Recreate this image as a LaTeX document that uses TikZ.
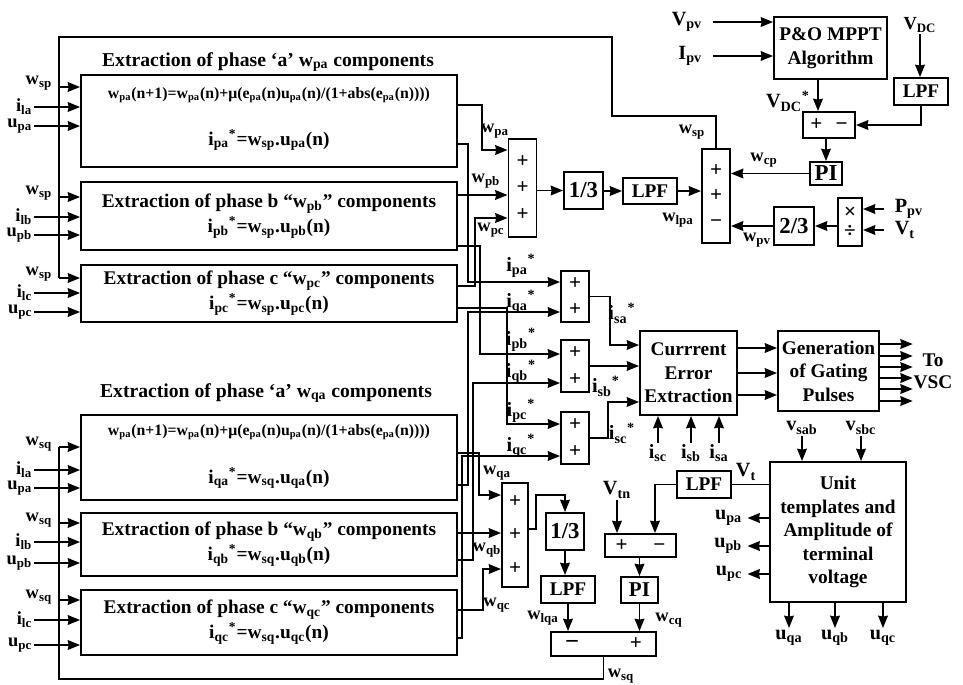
\documentclass[tikz,border=0pt]{standalone}
\usepackage{fontspec}
\setmainfont{Liberation Serif}
\usepackage{tikz}
\usetikzlibrary{arrows.meta, positioning}
\newcommand{\sbs}[1]{\textsubscript{#1}}
\newcommand{\sps}[1]{\textsuperscript{#1}}
\tikzset{every node/.style={font=\bfseries\fontsize{10.5}{12.5}\selectfont}}

\begin{document}
\begin{tikzpicture}[x=0.02cm, y=-0.02cm, line width=1.1pt, >={Stealth[length=7pt, width=5.5pt, inset=0.5pt]}]
    % Define styles
    \tikzstyle{exbox} = [rectangle, draw=black, minimum width=7.52cm, align=center, font=\bfseries\fontsize{11}{14.2}\selectfont]
    \tikzstyle{blockbox} = [rectangle, draw=black, align=center, inner sep=0pt, font=\bfseries\fontsize{11}{13.4}\selectfont]
    \tikzstyle{sumbox} = [rectangle, draw=black, align=center, inner sep=0pt, minimum width=0.56cm, font=\bfseries\fontsize{12}{15}\selectfont]
    \tikzstyle{eqtext} = [font=\bfseries\fontsize{9}{10}\selectfont]
    \tikzstyle{titletext} = [font=\bfseries\fontsize{11.2}{13}\selectfont]
    \tikzstyle{biglbl} = [inner sep=0.5pt, font=\bfseries\fontsize{11.5}{13}\selectfont]
    \tikzstyle{lbl} = [inner sep=0.5pt]
    \tikzstyle{arrow} = [->]

    \useasboundingbox (0,0) rectangle (963,684);

    % Extraction of p components
    \node (titlePa) [titletext] at (268,62) {Extraction of phase ‘a’ w\sbs{pa} components};
    \node (exPa) [exbox, minimum height=1.84cm] at (269,121) {};
    \node (eqPa) [eqtext] at (269,95) {w\sbs{pa}(n+1)=w\sbs{pa}(n)+μ(e\sbs{pa}(n)u\sbs{pa}(n)/(1+abs(e\sbs{pa}(n))))};
    \node (refPa) [font=\bfseries\fontsize{11}{13}\selectfont] at (269,140) {i\sbs{pa}\sps{*}=w\sbs{sp}.u\sbs{pa}(n)};
    \node (exPb) [exbox, minimum height=1.36cm] at (269,216) {Extraction of phase b “w\sbs{pb}” components\\ i\sbs{pb}\sps{*}=w\sbs{sp}.u\sbs{pb}(n)};
    \node (exPc) [exbox, minimum height=1.14cm] at (269,293.5) {Extraction of phase c “w\sbs{pc}” components\\ i\sbs{pc}\sps{*}=w\sbs{sp}.u\sbs{pc}(n)};

    % Extraction of q components
    \node (titleQa) [titletext] at (266,393) {Extraction of phase ‘a’ w\sbs{qa} components};
    \node (exQa) [exbox, minimum height=1.7cm] at (269,457.5) {};
    \node (eqQa) [eqtext] at (269,432) {w\sbs{pa}(n+1)=w\sbs{pa}(n)+μ(e\sbs{pa}(n)u\sbs{pa}(n)/(1+abs(e\sbs{pa}(n))))};
    \node (refQa) [font=\bfseries\fontsize{11}{13}\selectfont] at (269,478) {i\sbs{qa}\sps{*}=w\sbs{sq}.u\sbs{qa}(n)};
    \node (exQb) [exbox, minimum height=1.26cm] at (269,544.5) {Extraction of phase b “w\sbs{qb}” components\\ i\sbs{qb}\sps{*}=w\sbs{sq}.u\sbs{qb}(n)};
    \node (exQc) [exbox, minimum height=1.3cm] at (269,622.5) {Extraction of phase c “w\sbs{qc}” components\\ i\sbs{qc}\sps{*}=w\sbs{sq}.u\sbs{qc}(n)};

    % Inputs of the extraction blocks
    \foreach \bx/\yw/\yi/\yu/\ph in {exPa/87/107/126/a, exPb/197/217/235/b, exPc/278/293/312/c} {
        \coordinate (tapP\ph) at (59,\yw);
        \node (wspIn\ph) [lbl, anchor=east] at (54,\yw-4) {w\sbs{sp}};
        \draw[arrow] (tapP\ph) -- (\bx.west |- tapP\ph);
        \node (ilP\ph) [lbl, anchor=east] at (34,\yi) {i\sbs{l\ph}};
        \draw[arrow] (ilP\ph.east) -- (\bx.west |- ilP\ph.east);
        \node (upP\ph) [lbl, anchor=east] at (34,\yu) {u\sbs{p\ph}};
        \draw[arrow] (upP\ph.east) -- (\bx.west |- upP\ph.east);
    }
    \foreach \bx/\yw/\yi/\yu/\ph in {exQa/447/470/488/a, exQb/523/542/563/b, exQc/600/620/645/c} {
        \coordinate (tapQ\ph) at (59,\yw);
        \node (wsqIn\ph) [lbl, anchor=east] at (54,\yw-3) {w\sbs{sq}};
        \draw[arrow] (tapQ\ph) -- (\bx.west |- tapQ\ph);
        \node (ilQ\ph) [lbl, anchor=east] at (34,\yi) {i\sbs{l\ph}};
        \draw[arrow] (ilQ\ph.east) -- (\bx.west |- ilQ\ph.east);
        \node (upQ\ph) [lbl, anchor=east] at (34,\yu) {u\sbs{p\ph}};
        \draw[arrow] (upQ\ph.east) -- (\bx.west |- upQ\ph.east);
    }

    % Active (p) weight loop
    \node (sumP) [sumbox, minimum height=1.96cm] at (522.5,188) {+\\+\\+};
    \node (thirdP) [blockbox, minimum width=0.78cm, minimum height=0.74cm, font=\bfseries\fontsize{13}{14}\selectfont] at (583.5,190.5) {1/3};
    \node (lpfP) [blockbox, minimum width=1.08cm, minimum height=0.52cm] at (650,191) {LPF};
    \node (bigP) [sumbox, minimum height=1.88cm, font=\bfseries\fontsize{12}{14.7}\selectfont] at (716,196) {+\\+\\−};
    \node (mppt) [blockbox, minimum width=2.26cm, minimum height=1.24cm] at (830.5,48) {P\&O MPPT\\Algorithm};
    \node (lpfDC) [blockbox, minimum width=1.08cm, minimum height=0.54cm] at (921,91.5) {LPF};
    \node (errDC) [blockbox, minimum width=1.04cm, minimum height=0.52cm, font=\bfseries\fontsize{12}{14}\selectfont] at (829,125) {+\hspace{7.4pt}−};
    \node (piP) [blockbox, minimum width=0.64cm, minimum height=0.46cm, font=\bfseries\fontsize{13}{14}\selectfont] at (826,173.5) {PI};
    \node (muldiv) [blockbox, minimum width=0.48cm, minimum height=0.96cm, font=\bfseries\fontsize{12}{10.8}\selectfont] at (850,222) {×\\÷};
    \node (twoThird) [blockbox, minimum width=0.8cm, minimum height=0.76cm, font=\bfseries\fontsize{13}{14}\selectfont] at (794,226) {2/3};

    \node (vpv) [biglbl, anchor=east] at (704,22) {V\sbs{pv}};
    \node (ipv) [biglbl, anchor=east] at (704,56) {I\sbs{pv}};
    \node (vdc) [lbl] at (920,25) {V\sbs{DC}};
    \node (vdcref) [biglbl] at (788,101) {V\sbs{DC}\sps{*}};
    \node (ppv) [biglbl, anchor=west] at (893,209) {P\sbs{pv}};
    \node (vtP) [biglbl, anchor=west] at (893,230) {V\sbs{t}};

    \draw[arrow] ([xshift=5pt]vpv.east) -- (mppt.west |- vpv.east);
    \draw[arrow] ([xshift=5pt]ipv.east) -- (mppt.west |- ipv.east);
    \draw[arrow] (mppt.south -| 818,0) -- (errDC.north -| 818,0);
    \draw[arrow] (vdc.south) -- (vdc.south |- lpfDC.north);
    \draw[arrow] (lpfDC.south) |- (errDC.east);
    \draw[arrow] (errDC.south -| piP.north) -- (piP.north);
    \draw[arrow] (piP.west) -- (piP.west -| bigP.east);
    \draw[arrow] ([xshift=-5pt]ppv.west) -- (muldiv.east |- ppv.west);
    \draw[arrow] ([xshift=-5pt]vtP.west) -- (muldiv.east |- vtP.west);
    \draw[arrow] (muldiv.west |- twoThird.east) -- (twoThird.east);
    \draw[arrow] (twoThird.west) -- (twoThird.west -| bigP.east);
    \draw[arrow] (sumP.east |- thirdP.west) -- (thirdP.west);
    \draw[arrow] (thirdP.east |- lpfP.west) -- (lpfP.west);
    \draw[arrow] (lpfP.east) -- (lpfP.east -| bigP.west);
    \draw (bigP.north) |- (612,116) |- (59,37) -- (tapPc);

    \node (wcp) [lbl] at (764,160) {w\sbs{cp}};
    \node (wpv) [lbl] at (757,240) {w\sbs{pv}};
    \node (wlpa) [lbl] at (678,220) {w\sbs{lpa}};
    \node (wspOut) [lbl] at (692,132) {w\sbs{sp}};

    % Outputs of the p blocks
    \draw[arrow] (exPa.east |- 0,105) -| (482,150) -- (sumP.west |- 0,150);
    \draw[arrow] (exPb.east |- 0,195) -- (sumP.west |- 0,195);
    \draw[arrow] (exPc.east |- 0,286) -| (475,218) -- (sumP.west |- 0,218);
    \node (wpa) [lbl] at (495,131) {w\sbs{pa}};
    \node (wpb) [lbl] at (486,181) {w\sbs{pb}};
    \node (wpc) [lbl] at (491,230) {w\sbs{pc}};

    % Reference current summers
    \node (sumA) [sumbox, minimum height=1.02cm] at (575,296.5) {+\\+};
    \node (sumB) [sumbox, minimum height=1.04cm] at (575,366) {+\\+};
    \node (sumC) [sumbox, minimum height=1.04cm] at (575,438) {+\\+};

    \draw[arrow] (exPa.east |- 0,144) -| (468,282) -- (sumA.west |- 0,282);
    \draw[arrow] (exQa.east |- 0,485) -| (468,312) -- (sumA.west |- 0,312);
    \draw[arrow] (exPb.east |- 0,246) -| (480,354) -- (sumB.west |- 0,354);
    \draw[arrow] (exQb.east |- 0,560) -| (473,383) -- (sumB.west |- 0,383);
    \draw[arrow] (exPc.east |- 0,308) -| (507,424) -- (sumC.west |- 0,424);
    \draw[arrow] (exQc.east |- 0,638) -| (462,456) -- (sumC.west |- 0,456);

    \node (ipaS) [biglbl] at (521,266) {i\sbs{pa}\sps{*}};
    \node (iqaS) [biglbl] at (521,302) {i\sbs{qa}\sps{*}};
    \node (ipbS) [biglbl] at (521,340) {i\sbs{pb}\sps{*}};
    \node (iqbS) [biglbl] at (521,372) {i\sbs{qb}\sps{*}};
    \node (ipcS) [biglbl] at (521,411) {i\sbs{pc}\sps{*}};
    \node (iqcS) [biglbl] at (521,446) {i\sbs{qc}\sps{*}};

    % Current error and gating
    \node (errX) [blockbox, minimum width=1.94cm, minimum height=1.68cm] at (688.5,373) {Currrent\\Error\\Extraction};
    \node (gate) [blockbox, minimum width=2.02cm, minimum height=1.6cm] at (828.5,371) {Generation\\of Gating\\Pulses};
    \node (toVSC) [inner sep=0pt, align=center, font=\bfseries\fontsize{11}{12.5}\selectfont] at (933,371) {To\\VSC};

    \draw[arrow] (sumA.east) -| (610,345) -- (errX.west |- 0,345);
    \draw[arrow] (sumB.east) -- (sumB.east -| errX.west);
    \draw[arrow] (sumC.east) -| (608,402) -- (errX.west |- 0,402);
    \node (isaS) [biglbl] at (622,313) {i\sbs{sa}\sps{*}};
    \node (isbS) [biglbl] at (606,386) {i\sbs{sb}\sps{*}};
    \node (iscS) [biglbl] at (622,433) {i\sbs{sc}\sps{*}};

    \foreach \y in {348,373,395}
        \draw[arrow] (errX.east |- 0,\y) -- (gate.west |- 0,\y);
    \foreach \y in {344,356,367,378,389,401}
        \draw[arrow] (gate.east |- 0,\y) -- (toVSC.west |- 0,\y);

    \node (isc) [biglbl] at (658,453) {i\sbs{sc}};
    \node (isb) [biglbl] at (691,453) {i\sbs{sb}};
    \node (isa) [biglbl] at (719,453) {i\sbs{sa}};
    \draw[arrow] (isc.north) -- (isc.north |- errX.south);
    \draw[arrow] (isb.north) -- (isb.north |- errX.south);
    \draw[arrow] (isa.north) -- (isa.north |- errX.south);

    % Unit templates
    \node (unit) [blockbox, minimum width=2.72cm, minimum height=2.8cm] at (838,532) {Unit\\templates and\\Amplitude of\\terminal\\voltage};
    \node (vsab) [biglbl] at (802,428) {v\sbs{sab}};
    \node (vsbc) [biglbl] at (861,428) {v\sbs{sbc}};
    \draw[arrow] (vsab.south) -- (vsab.south |- unit.north);
    \draw[arrow] (vsbc.south) -- (vsbc.south |- unit.north);
    \node (upaO) [biglbl, anchor=east] at (744,518) {u\sbs{pa}};
    \node (upbO) [biglbl, anchor=east] at (744,546) {u\sbs{pb}};
    \node (upcO) [biglbl, anchor=east] at (744,574) {u\sbs{pc}};
    \draw[arrow] (unit.west |- upaO.east) -- ([xshift=2pt]upaO.east);
    \draw[arrow] (unit.west |- upbO.east) -- ([xshift=2pt]upbO.east);
    \draw[arrow] (unit.west |- upcO.east) -- ([xshift=2pt]upcO.east);
    \node (uqaO) [biglbl, anchor=north] at (789,628) {u\sbs{qa}};
    \node (uqbO) [biglbl, anchor=north] at (835,628) {u\sbs{qb}};
    \node (uqcO) [biglbl, anchor=north] at (883,628) {u\sbs{qc}};
    \draw[arrow] (unit.south -| uqaO.north) -- (uqaO.north);
    \draw[arrow] (unit.south -| uqbO.north) -- (uqbO.north);
    \draw[arrow] (unit.south -| uqcO.north) -- (uqcO.north);

    % Reactive (q) weight loop
    \node (sumQ) [sumbox, minimum width=0.52cm, minimum height=2.08cm, font=\bfseries\fontsize{12}{19}\selectfont] at (515,535) {+\\+\\+};
    \node (thirdQ) [blockbox, minimum width=0.76cm, minimum height=0.74cm, font=\bfseries\fontsize{13}{14}\selectfont] at (565,531.5) {1/3};
    \node (lpfQ) [blockbox, minimum width=1.08cm, minimum height=0.54cm] at (568,589.5) {LPF};
    \node (lpfV) [blockbox, minimum width=1.08cm, minimum height=0.54cm] at (704,484.5) {LPF};
    \node (errQ) [blockbox, minimum width=1.42cm, minimum height=0.46cm, font=\bfseries\fontsize{12}{14}\selectfont] at (640.5,545.5) {+\hspace{14.7pt}−};
    \node (piQ) [blockbox, minimum width=0.74cm, minimum height=0.52cm, font=\bfseries\fontsize{12}{14}\selectfont] at (639.5,590) {PI};
    \node (sumW) [blockbox, minimum width=2.1cm, minimum height=0.48cm, font=\bfseries\fontsize{12}{14}\selectfont] at (603.5,644) {{\fontsize{14}{14}\selectfont −}\hspace{29pt}+};
    \node (vtn) [biglbl] at (617,490) {V\sbs{tn}};

    \draw[arrow] (exQa.east |- 0,453) -| (479,495) -- (sumQ.west |- 0,495);
    \draw[arrow] (exQb.east |- 0,533) -- (sumQ.west |- 0,533);
    \draw[arrow] (exQc.east |- 0,610) -| (483,569) -- (sumQ.west |- 0,569);
    \node (wqa) [lbl] at (497,473) {w\sbs{qa}};
    \node (wqb) [lbl] at (487,550) {w\sbs{qb}};
    \node (wqc) [lbl] at (497,605) {w\sbs{qc}};

    \draw[arrow] (sumQ.east |- 0,529) -- ++(7,0) |- (thirdQ.north |- 0,495) -- (thirdQ.north);
    \draw[arrow] (thirdQ.south) -- (thirdQ.south |- lpfQ.north);
    \draw[arrow] (lpfQ.south) -- (lpfQ.south |- sumW.north);
    \draw (unit.west |- lpfV.east) -- (lpfV.east);
    \draw[arrow] (lpfV.west) -| (errQ.north -| 655,0);
    \draw[arrow] (vtn.south) -- (vtn.south |- errQ.north);
    \draw[arrow] (errQ.south -| piQ.north) -- (piQ.north);
    \draw[arrow] (piQ.south) -- (piQ.south |- sumW.north);
    \draw (sumW.south) |- (59,679) -- (tapQa);

    \node (vtU) [biglbl] at (746,472) {V\sbs{t}};
    \node (wlqa) [lbl] at (543,618) {w\sbs{lqa}};
    \node (wcq) [lbl] at (669,620) {w\sbs{cq}};
    \node (wsqOut) [lbl] at (621,676) {w\sbs{sq}};
\end{tikzpicture}
\end{document}
